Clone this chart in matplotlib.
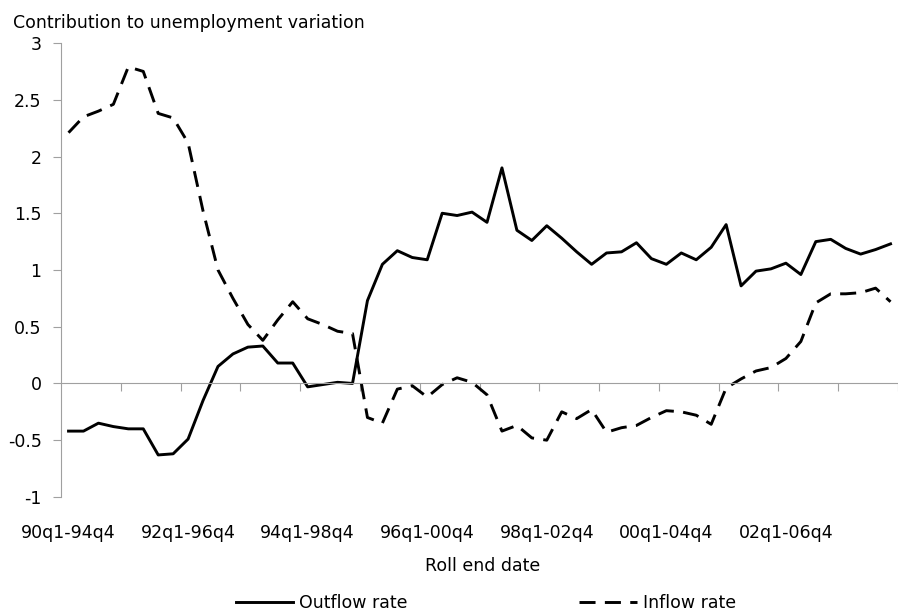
import matplotlib
matplotlib.use('Agg')
import matplotlib.pyplot as plt
import numpy as np

# rolling 5-year windows, quarterly steps (90q1-94q4, 90q2-95q1, ...)
windows = []
for k in range(56):
    s = 90 * 4 + k
    e = s + 19
    windows.append('%02dq%d-%02dq%d' % ((s // 4) % 100, s % 4 + 1, (e // 4) % 100, e % 4 + 1))

outflow = [-0.42, -0.42, -0.35, -0.38, -0.40, -0.40, -0.63, -0.62, -0.49, -0.15,
           0.15, 0.26, 0.32, 0.33, 0.18, 0.18, -0.03, -0.01, 0.01, 0.00,
           0.73, 1.05, 1.17, 1.11, 1.09, 1.50, 1.48, 1.51, 1.42, 1.90,
           1.35, 1.26, 1.39, 1.28, 1.16, 1.05, 1.15, 1.16, 1.24, 1.10,
           1.05, 1.15, 1.09, 1.20, 1.40, 0.86, 0.99, 1.01, 1.06, 0.96,
           1.25, 1.27, 1.19, 1.14, 1.18, 1.23]

inflow = [2.21, 2.35, 2.40, 2.46, 2.79, 2.75, 2.38, 2.34, 2.12, 1.52,
          1.00, 0.75, 0.52, 0.38, 0.56, 0.72, 0.57, 0.52, 0.46, 0.44,
          -0.30, -0.35, -0.05, -0.02, -0.12, -0.01, 0.05, 0.01, -0.10, -0.42,
          -0.37, -0.48, -0.50, -0.25, -0.31, -0.23, -0.43, -0.39, -0.37, -0.30,
          -0.24, -0.25, -0.28, -0.36, -0.04, 0.04, 0.11, 0.14, 0.22, 0.37,
          0.71, 0.79, 0.79, 0.80, 0.84, 0.72]

yticks = [-1, -0.5, 0, 0.5, 1, 1.5, 2, 2.5, 3]

#%%
plt.rcParams['font.family'] = 'DejaVu Sans'
plt.rcParams['axes.unicode_minus'] = False
grey = '#a0a0a0'
fs = 12.5

fig = plt.figure(figsize=(8.98, 6.15), dpi=100)
ax = fig.add_axes([0.068, 0.192, 0.932, 0.738])

x = np.arange(len(windows))
ax.plot(x, outflow, color='black', lw=2.1, label='Outflow rate')
ax.plot(x, inflow, color='black', lw=2.1, ls=(0, (5.5, 3.2)), label='Inflow rate')

ax.set_xlim(-0.5, 55.23)
ax.set_ylim(-1, 3)

for s in ['top', 'right']:
    ax.spines[s].set_visible(False)
ax.spines['left'].set_color(grey)
ax.spines['bottom'].set_color(grey)
ax.spines['bottom'].set_position(('data', 0))

ax.set_yticks(yticks)
ax.set_yticklabels(['%g' % v for v in yticks], fontsize=fs)
ax.tick_params(axis='y', length=6, color=grey, pad=8)

# tick marks every 4 quarters, labels every 8 quarters at the bottom
ax.set_xticks(np.arange(3.5, len(windows), 4))
ax.set_xticklabels([])
ax.tick_params(axis='x', which='major', length=6, color=grey)
lab_pos = x[::8][:7]
ax.set_xticks(lab_pos, [windows[i] for i in lab_pos], minor=True)
ax.tick_params(axis='x', which='minor', length=0, pad=101, labelsize=fs)

ax.set_xlabel('Roll end date', fontsize=fs)
ax.xaxis.set_label_coords(0.504, -0.133)

fig.text(0.014, 0.978, 'Contribution to unemployment variation', fontsize=fs, va='top')

ax.legend(loc='center', bbox_to_anchor=(0.541, 0.019), bbox_transform=fig.transFigure,
          ncol=2, frameon=False, fontsize=fs, handlelength=3.3, handletextpad=0.35,
          columnspacing=9.9)

fig.savefig('out.png', dpi=100)
